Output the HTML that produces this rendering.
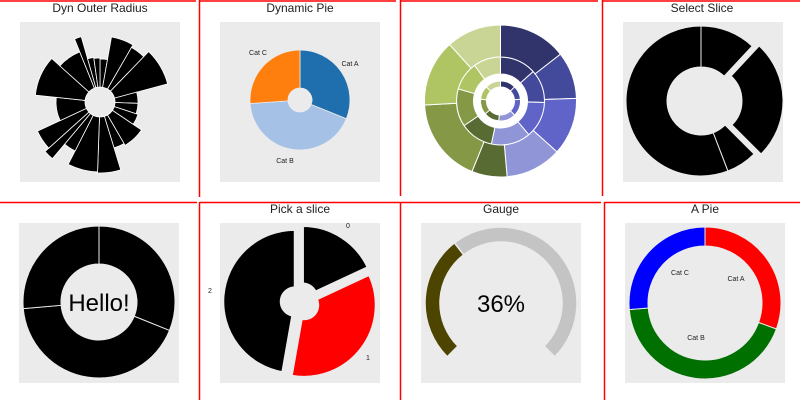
<!DOCTYPE html>
<html><head><meta charset="utf-8"><style>
body{margin:0;background:#fff;}
svg{display:block;font-family:"Liberation Sans",sans-serif;}
</style></head><body>
<svg id="s" width="800" height="400">
<g stroke="#f00" stroke-width="1.5">
<line x1="0" y1="1" x2="196" y2="1"/><line x1="199.5" y1="1" x2="396" y2="1"/><line x1="199.5" y1="0" x2="199.5" y2="197"/>
<line x1="400.5" y1="1" x2="598" y2="1"/><line x1="400.5" y1="0" x2="400.5" y2="196"/>
<line x1="602.5" y1="1" x2="800" y2="1"/><line x1="602.5" y1="0" x2="602.5" y2="196"/>
<line x1="0" y1="202.5" x2="197" y2="202.5"/><line x1="199.5" y1="202.5" x2="400" y2="202.5"/><line x1="199.5" y1="202" x2="199.5" y2="400"/>
<line x1="400.5" y1="202.5" x2="601" y2="202.5"/><line x1="400.5" y1="202" x2="400.5" y2="400"/>
<line x1="604.5" y1="202.5" x2="800" y2="202.5"/><line x1="604.5" y1="202" x2="604.5" y2="400"/>
</g>
<g fill="#ebebeb">
<rect x="20" y="22" width="160" height="160"/>
<rect x="220" y="22" width="160" height="160"/>
<rect x="623" y="22" width="160" height="160"/>
<rect x="19" y="223" width="160" height="160"/>
<rect x="220" y="223" width="160" height="160"/>
<rect x="421" y="223" width="160" height="160"/>
<rect x="625" y="223" width="160" height="160"/>
</g>
<g font-size="12" fill="#222" text-anchor="middle">
<text x="100" y="12">Dyn Outer Radius</text>
<text x="300" y="12">Dynamic Pie</text>
<text x="702" y="12">Select Slice</text>
<text x="300" y="213">Pick a slice</text>
<text x="501" y="213">Gauge</text>
<text x="705" y="213">A Pie</text>
</g>
</svg>
<script>
// Panel 1: dynamic outer radius
const roseValues=[10,20,14,31,17,16,16,26,13,19,25,13,8,17,31,36,26,6,8,8];
const roseRadii=[43,66,63,70,38,38,40,50,48,71,70,55,74,69,44,65,54,68,45,44];
// Panel 2
const dynCats=["Cat A","Cat B","Cat C"];
const dynValues=[112,154,94];
// Panel 3 sunburst
const sunOuter=[52,36,44,43,27,65,51,42];
const sunMiddle=[48,44,48,52,44,50,38,36];
const sunInner=[45,40,50,50,45,45,40,45];
const sunColors=["#31336b","#444a9b","#6063c8","#9095d8","#586b33","#849845","#afc463","#c9d595"];
// Panel 4
const selValues=[43,92,24,201];
// Panel 5
const helloValues=[112,153,95];
// Panel 6
const pickLabels=["0","1","2"];
const pickValues=[65,125,170];
// Panel 7
const gaugeValue=36;
// Panel 8
const aPieCats=["Cat A","Cat B","Cat C"];
const aPieValues=[110,155,95];

const NS="http://www.w3.org/2000/svg";
const svg=document.getElementById('s');
function pt(cx,cy,r,a){const t=a*Math.PI/180;return [cx+r*Math.sin(t),cy-r*Math.cos(t)];}
function arc(cx,cy,r0,r1,a0,a1){
 const lg=(a1-a0)>180?1:0;const p1=pt(cx,cy,r1,a0),p2=pt(cx,cy,r1,a1);
 let d=`M${p1[0]},${p1[1]}A${r1},${r1} 0 ${lg} 1 ${p2[0]},${p2[1]}`;
 if(r0>0){const p3=pt(cx,cy,r0,a1),p4=pt(cx,cy,r0,a0);d+=`L${p3[0]},${p3[1]}A${r0},${r0} 0 ${lg} 0 ${p4[0]},${p4[1]}Z`;}
 else d+=`L${cx},${cy}Z`;return d;}
function angles(vals,span){const s=vals.reduce((a,b)=>a+b,0);let a=0;return vals.map(v=>{const a0=a;a+=v/s*span;return [a0,a];});}
function path(d,fill,stroke,sw){const p=document.createElementNS(NS,'path');p.setAttribute('d',d);p.setAttribute('fill',fill);if(stroke){p.setAttribute('stroke',stroke);p.setAttribute('stroke-width',sw||1);}svg.appendChild(p);return p;}
function text(x,y,s,size,fill){const t=document.createElementNS(NS,'text');t.setAttribute('x',x);t.setAttribute('y',y);t.setAttribute('font-size',size);t.setAttribute('fill',fill||'#222');t.setAttribute('text-anchor','middle');t.textContent=s;svg.appendChild(t);return t;}

// Panel 1
angles(roseValues,360).forEach((a,i)=>{
 const p=path(arc(100,102,15,roseRadii[i],a[0],a[1]),'#000','#fff',0.8);
 
 
});
// Panel 2
const dynColors=["#1f6fae","#a6c1e6","#ff7f0e"];
const dynLabelPos=[[350,66],[285,163],[258,55]];
angles(dynValues,360).forEach((a,i)=>{
 const p=path(arc(300,100,12,50,a[0],a[1]),dynColors[i],'#ebebeb',0.8);
 
 
 const t=text(dynLabelPos[i][0],dynLabelPos[i][1],dynCats[i],7);
 
 
});
// Panel 3
[[sunInner,14,20],[sunMiddle,27,44],[sunOuter,44,76]].forEach(r=>{
 angles(r[0],360).forEach((a,i)=>{
  const p=path(arc(500.5,101,r[1],r[2],a[0],a[1]),sunColors[i],'#fff',1);
  
  
 });
});
// Panel 4
angles(selValues,360).forEach((a,i)=>{
 let cx=701,cy=101;
 if(i===1){const m=(a[0]+a[1])/2;const o=pt(0,0,7,m);cx+=o[0];cy+=o[1];}
 const p=path(arc(cx,cy,34,75,a[0],a[1]),'#000','#ebebeb',1);
 
 
});
// Panel 5
angles(helloValues,360).forEach((a,i)=>{
 const p=path(arc(99,302,38,76,a[0],a[1]),'#000','#ebebeb',1);
 
 
});
const h=text(99,311,'Hello!',24,'#000');


// Panel 6
const pickColors=['#000','#f00','#000'];
const pickLabelPos=[[348,228],[368,360],[210,293]];
angles(pickValues,360).forEach((a,i)=>{
 const m=(a[0]+a[1])/2;const o=pt(0,0,5,m);
 const p=path(arc(300+o[0],302+o[1],14,72,a[0],a[1]),pickColors[i],'#ebebeb',2.5);
 
 
 const t=text(pickLabelPos[i][0],pickLabelPos[i][1],pickLabels[i],7);
 
 
});
// Panel 7
const gStart=-135,gSpan=270,gEnd=gStart+gSpan*gaugeValue/100;
let g=path(arc(501,303,61,76,gEnd,gStart+gSpan),'#c4c4c4','#ebebeb',1.5);


g=path(arc(501,303,61,76,gStart,gEnd),'#4d4400','#ebebeb',1.5);


const gt=text(501,312,gaugeValue+'%',24,'#000');


// Panel 8
const aColors=['#f00','#007000','#00f'];
const aLabelPos=[[736,281],[696,340],[680,275]];
angles(aPieValues,360).forEach((a,i)=>{
 const p=path(arc(705,303,57,76,a[0],a[1]),aColors[i],'#ebebeb',1);
 
 
 const t=text(aLabelPos[i][0],aLabelPos[i][1],aPieCats[i],7);
 
 
});
</script>
</body></html>
